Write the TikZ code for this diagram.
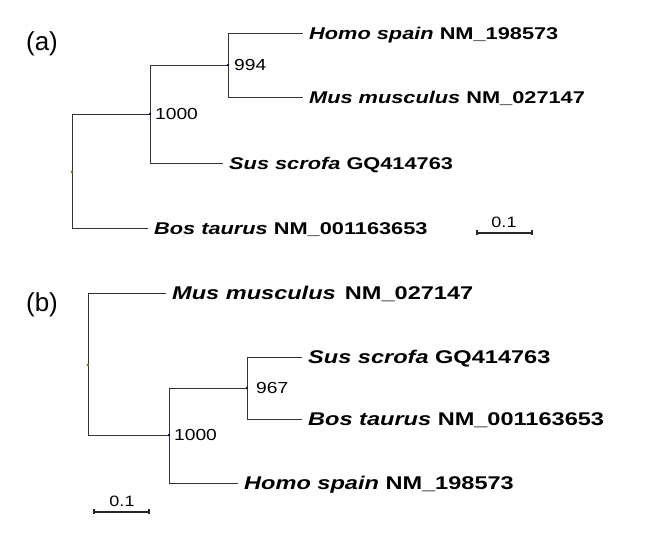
\documentclass[tikz,border=0pt]{standalone}
\usepackage{fontspec}
\setmainfont{Liberation Sans}
\newfontfamily\lbl[FakeStretch=1.28]{Liberation Sans}
\newfontfamily\lblnum[FakeStretch=1.2]{Liberation Sans}
\tikzset{
  branch/.style={draw=black!80, line width=0.9pt},
  leafa/.style={anchor=west, inner xsep=6pt, inner ysep=0pt, text height=12.2pt, text depth=0pt,
                font=\lbl\fontsize{17}{19}\selectfont\bfseries},
  leafb/.style={anchor=west, inner xsep=6pt, inner ysep=0pt, text height=13.2pt, text depth=0pt,
                font=\lbl\fontsize{18.4}{20}\selectfont\bfseries},
  boot/.style={anchor=west, inner xsep=5pt, inner ysep=0pt, text height=11.5pt, text depth=0pt,
               font=\lblnum\fontsize{16}{18}\selectfont},
  panel/.style={font=\fontsize{26}{30}\selectfont, inner sep=0pt},
  rootdot/.style={fill=olive!80!black, draw=none, circle, inner sep=0pt, minimum size=3pt},
  intdot/.style={fill=blue!50!black, draw=none, circle, inner sep=0pt, minimum size=2.5pt},
  scalebar/.style={draw=black!85, line width=1.2pt},
  scalelbl/.style={font=\lblnum\fontsize{15}{17}\selectfont, inner sep=0pt}
}
\begin{document}
\begin{tikzpicture}[x=1pt,y=-1pt]
\useasboundingbox (0,0) rectangle (649,534);
\fill[white] (0,0) rectangle (649,534);

% ---------- panel (a) ----------
\node[panel] (pa) at (42,44) {(a)};
\coordinate (a0) at (72,172);
\coordinate (a1) at (150,114);
\coordinate (a2) at (228,65);
\coordinate (tHomoA) at (303,33);
\coordinate (tMusA) at (303,97);
\coordinate (tSusA) at (223,163);
\coordinate (tBosA) at (148,228);

\draw[branch] (a0) |- (a1);
\draw[branch] (a0) |- (tBosA);
\draw[branch] (a1) |- (a2);
\draw[branch] (a1) |- (tSusA);
\draw[branch] (a2) |- (tHomoA);
\draw[branch] (a2) |- (tMusA);

\node[rootdot] (da0) at (a0) {};
\node[intdot] (da1) at (a1) {};
\node[intdot] (da2) at (a2) {};

\node[leafa] (lHomoA) at (tHomoA) {\itshape Homo spain\upshape{} NM\_198573};
\node[leafa] (lMusA) at (tMusA) {\itshape Mus musculus\upshape{} NM\_027147};
\node[leafa] (lSusA) at (tSusA) {\itshape Sus scrofa\upshape{} GQ414763};
\node[leafa] (lBosA) at (tBosA) {\itshape Bos taurus\upshape{} NM\_001163653};

\node[boot] (ba1) at (a1) {1000};
\node[boot, inner xsep=6pt] (ba2) at (a2) {994};

\coordinate (sa1) at (477,233);
\coordinate (sa2) at (532,233);
\draw[scalebar] (sa1) -- (sa2);
\draw[scalebar] ([yshift=-2.5pt]sa1) -- ([yshift=2.5pt]sa1);
\draw[scalebar] ([yshift=-2.5pt]sa2) -- ([yshift=2.5pt]sa2);
\node[scalelbl] (sla) at (504,222) {0.1};

% ---------- panel (b) ----------
\node[panel] (pb) at (42,305) {(b)};
\coordinate (b0) at (88,365);
\coordinate (b1) at (169,435);
\coordinate (b2) at (247,388);
\coordinate (tMusB) at (166,293);
\coordinate (tHomoB) at (238,483);
\coordinate (tSusB) at (302,357);
\coordinate (tBosB) at (302,419);

\draw[branch] (b0) |- (tMusB);
\draw[branch] (b0) |- (b1);
\draw[branch] (b1) |- (b2);
\draw[branch] (b1) |- (tHomoB);
\draw[branch] (b2) |- (tSusB);
\draw[branch] (b2) |- (tBosB);

\node[rootdot] (db0) at (b0) {};
\node[intdot] (db1) at (b1) {};
\node[intdot] (db2) at (b2) {};

\node[leafb] (lMusB) at (tMusB) {\itshape Mus musculus\upshape\hspace{0.5em}NM\_027147};
\node[leafb] (lSusB) at (tSusB) {\itshape Sus scrofa\upshape{} GQ414763};
\node[leafb] (lBosB) at (tBosB) {\itshape Bos taurus\upshape{} NM\_001163653};
\node[leafb] (lHomoB) at (tHomoB) {\itshape Homo spain\upshape{} NM\_198573};

\node[boot] (bb1) at (b1) {1000};
\node[boot, inner xsep=9pt] (bb2) at (b2) {967};

\coordinate (sb1) at (94,512);
\coordinate (sb2) at (149,512);
\draw[scalebar] (sb1) -- (sb2);
\draw[scalebar] ([yshift=-2.5pt]sb1) -- ([yshift=2.5pt]sb1);
\draw[scalebar] ([yshift=-2.5pt]sb2) -- ([yshift=2.5pt]sb2);
\node[scalelbl] (slb) at (122,501) {0.1};
\end{tikzpicture}
\end{document}
